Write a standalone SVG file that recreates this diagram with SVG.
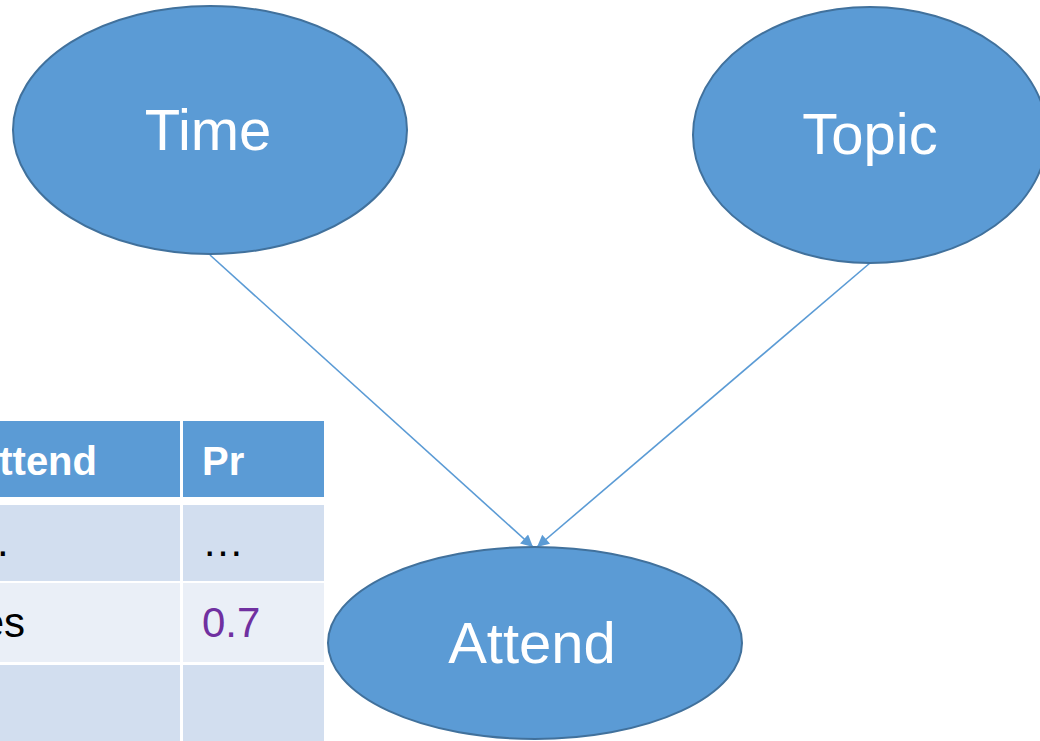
<svg xmlns="http://www.w3.org/2000/svg" width="1040" height="741" viewBox="0 0 1040 741">
  <style>
    .node { fill: #5B9BD5; stroke: #41719C; stroke-width: 2; }
    .label { font-family: "Liberation Sans", Arial, sans-serif; font-size: 58px; fill: #FFFFFF; text-anchor: middle; }
    .edge { stroke: #5B9BD5; stroke-width: 1.6; fill: none; marker-end: url(#arrow); }
    .hdr { fill: #5B9BD5; }
    .rowA { fill: #D2DEEF; }
    .rowB { fill: #EAEFF7; }
    .th { font-family: "Liberation Sans", Arial, sans-serif; font-size: 40px; font-weight: bold; fill: #FFFFFF; }
    .td { font-family: "Liberation Sans", Arial, sans-serif; font-size: 42px; fill: #000000; }
    .prob { fill: #7030A0; }
  </style>
  <defs>
    <marker id="arrow" viewBox="0 0 10 10" refX="10" refY="5" markerWidth="15" markerHeight="12" markerUnits="userSpaceOnUse" orient="auto">
      <path d="M0,0 L10,5 L0,10 z" fill="#5B9BD5"/>
    </marker>
  </defs>
  <rect width="1040" height="741" fill="#FFFFFF"/>

  <!-- probability table (left part cut by the frame) -->
  <g id="table">
    <rect class="hdr" x="0" y="421" width="180" height="76"/>
    <rect class="hdr" x="183" y="421" width="141" height="76"/>
    <rect class="rowA" x="0" y="505" width="180" height="76"/>
    <rect class="rowA" x="183" y="505" width="141" height="76"/>
    <rect class="rowB" x="0" y="583" width="180" height="79"/>
    <rect class="rowB" x="183" y="583" width="141" height="79"/>
    <rect class="rowA" x="0" y="665" width="180" height="76"/>
    <rect class="rowA" x="183" y="665" width="141" height="76"/>
    <text class="th" x="97" y="475" text-anchor="end">ttend</text>
    <text class="th" x="202" y="475">Pr</text>
    <text class="td" x="-3" y="556">.</text>
    <text class="td" x="202" y="556">…</text>
    <text class="td" x="25" y="637" text-anchor="end">es</text>
    <text class="td prob" x="202" y="637">0.7</text>
  </g>

  <!-- connectors -->
  <g id="edges">
    <line class="edge" x1="210" y1="255" x2="533" y2="547"/>
    <line class="edge" x1="870" y1="263" x2="537" y2="547"/>
  </g>

  <g id="node-time">
    <ellipse class="node" cx="210" cy="130" rx="197" ry="124"/>
    <text class="label" x="208" y="150">Time</text>
  </g>

  <g id="node-topic">
    <ellipse class="node" cx="870" cy="135" rx="177" ry="128"/>
    <text class="label" x="870" y="154">Topic</text>
  </g>

  <g id="node-attend">
    <ellipse class="node" cx="535" cy="643" rx="207" ry="96"/>
    <text class="label" x="532" y="663" font-size="60">Attend</text>
  </g>
</svg>
